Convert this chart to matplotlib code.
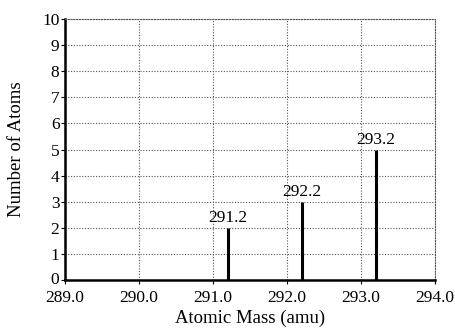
import matplotlib
matplotlib.use("Agg")
import matplotlib.pyplot as plt
import matplotlib.transforms as mtransforms

masses = [291.2, 292.2, 293.2]
counts = [2, 3, 5]
labels = ["291.2", "292.2", "293.2"]
xticks = [289.0, 290.0, 291.0, 292.0, 293.0, 294.0]
yticks = list(range(0, 11))

plt.rcParams["font.family"] = ["Liberation Serif", "DejaVu Serif"]

fig = plt.figure(figsize=(4.56, 3.30), dpi=100)
ax = fig.add_axes([65 / 456, 50 / 330, 370 / 456, 261 / 330])

ax.set_xlim(289.0, 294.0)
ax.set_ylim(0, 10)
ax.set_xticks(xticks)
ax.set_xticklabels([f"{t:.1f}" for t in xticks], fontsize=12.5)
ax.set_yticks(yticks)
ax.set_yticklabels([str(t) for t in yticks], fontsize=12.5)

ax.grid(True, color="#555555", linestyle=(0, (1, 1.5)), linewidth=0.8)
ax.set_axisbelow(True)

ax.vlines(masses, 0, counts, color="black", linewidth=2.2)
for m, c, lab in zip(masses, counts, labels):
    ax.text(m, c + 0.05, lab, ha="center", va="bottom", fontsize=12.5)

for side in ["top", "right"]:
    ax.spines[side].set_linestyle((0, (1, 1.5)))
    ax.spines[side].set_linewidth(0.8)
    ax.spines[side].set_color("#555555")
for side in ["left", "bottom"]:
    ax.spines[side].set_linewidth(1.8)

ax.tick_params(axis="y", length=3, width=0.8, pad=1)
ax.tick_params(axis="x", length=3, width=0.8, pad=4)

# nudge the "0" label up a little so it clears "289.0"
zero = ax.get_yticklabels()[0]
zero.set_transform(zero.get_transform() +
                   mtransforms.ScaledTranslation(0, 2 / 100, fig.dpi_scale_trans))

ax.set_xlabel("Atomic Mass (amu)", fontsize=13.5, labelpad=3)
ax.set_ylabel("Number of Atoms", fontsize=13.5, labelpad=12)

fig.savefig("out.png", dpi=100)
